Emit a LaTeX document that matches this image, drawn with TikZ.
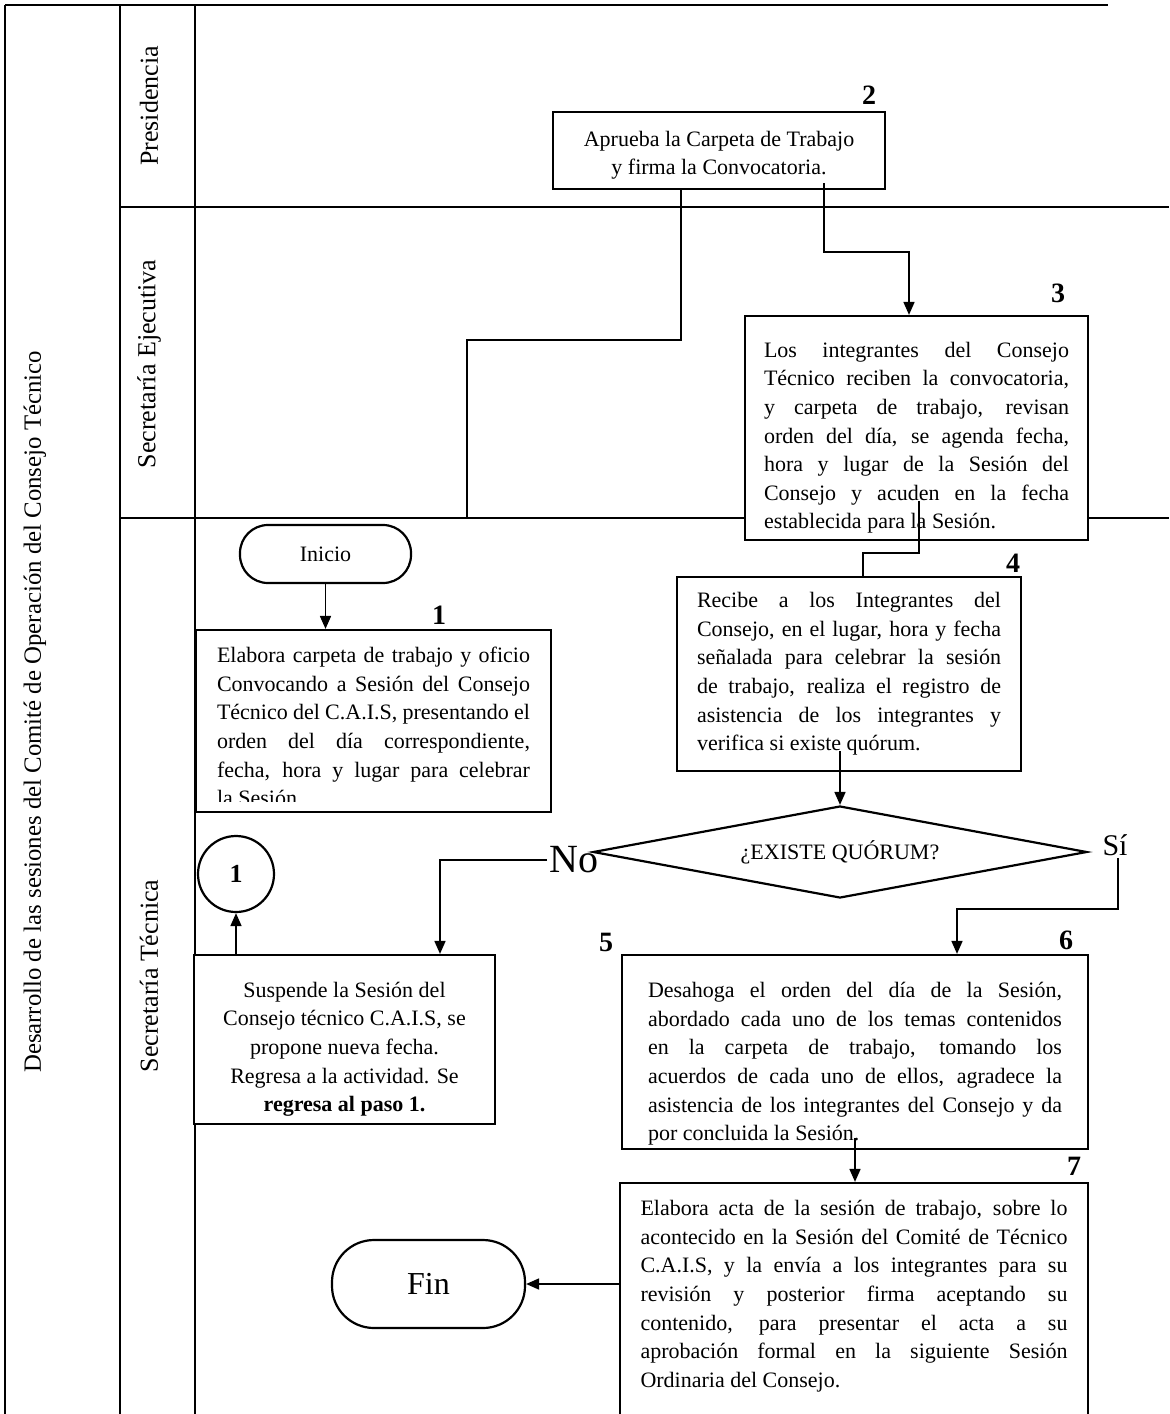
\documentclass[tikz,border=0pt]{standalone}
\usepackage{fontspec}
\setmainfont{Liberation Serif}
\usetikzlibrary{arrows.meta,shapes.geometric}
\newcommand{\topgap}[1]{\rule{0pt}{#1}}

\begin{document}
\begin{tikzpicture}[x=0.5pt,y=-0.5pt,
  lane/.style={line width=.65pt},
  box/.style={draw,fill=white,line width=1.1pt,inner sep=0pt},
  txt/.style={font=\fontsize{11}{14.3}\selectfont,align=justify,inner sep=0pt},
  lbl/.style={rotate=90,font=\fontsize{13}{15}\selectfont},
  num/.style={font=\fontsize{14}{16}\selectfont\bfseries},
  lin/.style={line width=.85pt},
  arr/.style={line width=.85pt,-{Triangle[length=6.5pt,width=5.5pt]}}]
  \useasboundingbox (0,0) rectangle (1169,1414);
  \draw[lane] (5,5) -- (1108,5);
  \draw[lane] (5,5) -- (5,1420) (120,5) -- (120,1420) (195,5) -- (195,1420);
  \draw[lane] (120,207) -- (1169,207) (120,518) -- (1169,518);
  \node[lbl,font=\fontsize{12.4}{15}\selectfont] (lblall) at (35,712) {Desarrollo de las sesiones del Comité de Operación del Consejo Técnico};
  \node[lbl] (lblpre) at (149,106) {Presidencia};
  \node[lbl] (lbleje) at (149,364) {Secretaría Ejecutiva};
  \node[lbl] (lbltec) at (149,976) {Secretaría Técnica};

  \node[box,txt,align=center,minimum width=166pt,minimum height=38.5pt] (act2) at (719,150.5)
    {\topgap{12.5pt}Aprueba la Carpeta de Trabajo\\y firma la Convocatoria.};
  \node[box,txt,text width=152.5pt,minimum width=171.5pt,minimum height=112pt] (act3) at (916.5,428)
    {\topgap{17.5pt}Los integrantes del Consejo\linebreak Técnico reciben la convocatoria,\linebreak y carpeta de trabajo, revisan\linebreak
     orden del día, se agenda fecha,\linebreak hora y lugar de la Sesión del\linebreak Consejo y acuden en la fecha\linebreak
     establecida para la Sesión.};
  \node[box,rounded corners=14pt,minimum width=85.5pt,minimum height=29pt,
    font=\fontsize{11}{13}\selectfont] (ini) at (325.5,554) {Inicio};
  \node[box,minimum width=177.5pt,minimum height=91pt] (act1) at (373.5,721) {};
  \begin{scope}
    \clip ([yshift=6pt]act1.south west) rectangle (act1.north east);
    \node[txt,text width=156.5pt,anchor=north] (act1txt) at ([yshift=-9pt]act1.north)
      {Elabora carpeta de trabajo y oficio\linebreak Convocando a Sesión del Consejo\linebreak
       Técnico del C.A.I.S, presentando el\linebreak orden del día correspondiente,\linebreak
       fecha, hora y lugar para celebrar\linebreak la Sesión};
  \end{scope}
  \node[box,txt,text width=152pt,minimum width=172pt,minimum height=97pt] (act4) at (849,674)
    {Recibe a los Integrantes del\linebreak Consejo, en el lugar, hora y fecha\linebreak señalada para celebrar la sesión\linebreak
     de trabajo, realiza el registro de\linebreak asistencia de los integrantes y\linebreak verifica si existe quórum.};
  \node[draw,diamond,line width=1.1pt,aspect=5.4,minimum width=247pt,minimum height=46pt,inner sep=0pt,
    font=\fontsize{11}{13}\selectfont] (dec) at (840,852) {¿EXISTE QUÓRUM?};
  \node[font=\fontsize{20}{22}\selectfont,inner sep=1pt] (no) at (574,860) {No};
  \node[font=\fontsize{15}{17}\selectfont,inner sep=1pt] (si) at (1115,845) {Sí};
  \node[draw,circle,line width=1.1pt,minimum size=38pt,inner sep=0pt,
    font=\fontsize{13}{15}\selectfont\bfseries] (con1) at (236,874) {1};
  \node[box,txt,align=center,minimum width=150.5pt,minimum height=84.5pt] (act5) at (344.5,1039.5)
    {\topgap{17.5pt}Suspende la Sesión del\\Consejo técnico C.A.I.S, se\\propone nueva fecha.\\Regresa a la actividad. Se\\\textbf{regresa al paso 1.}};
  \node[box,txt,text width=207pt,minimum width=233pt,minimum height=97pt] (act6) at (855,1052)
    {\topgap{19.5pt}Desahoga el orden del día de la Sesión,\linebreak abordado cada uno de los temas contenidos\linebreak
     en la carpeta de trabajo, tomando los\linebreak acuerdos de cada uno de ellos, agradece la\linebreak
     asistencia de los integrantes del Consejo y da\linebreak por concluida la Sesión.};
  \node[box,minimum width=234pt,minimum height=128.5pt] (act7) at (854,1311.5) {};
  \node[txt,text width=213.5pt,anchor=north] (act7txt) at ([yshift=-9pt]act7.north)
    {Elabora acta de la sesión de trabajo, sobre lo\linebreak acontecido en la Sesión del Comité de Técnico\linebreak
     C.A.I.S, y la envía a los integrantes para su\linebreak revisión y posterior firma aceptando su\linebreak
     contenido, para presentar el acta a su\linebreak aprobación formal en la siguiente Sesión\linebreak
     Ordinaria del Consejo.};
  \node[box,rounded corners=21pt,minimum width=96.5pt,minimum height=44pt,
    font=\fontsize{16}{18}\selectfont] (fin) at (428.5,1284) {Fin};

  \node[num] (n1) at (439,615) {1};
  \node[num] (n2) at (869,95) {2};
  \node[num] (n3) at (1058,293) {3};
  \node[num] (n4) at (1013,563) {4};
  \node[num] (n5) at (606,942) {5};
  \node[num] (n6) at (1066,940) {6};
  \node[num] (n7) at (1074,1166) {7};

  \coordinate (lnend) at (467,518);
  \coordinate (yturn) at (1118,909);
  \draw[arr] ([xshift=52.5pt,yshift=3.5pt]act2.south) -- ++(0,69) -| ([xshift=-3.75pt]act3.north);
  \draw[lin] ([xshift=-19pt]act2.south) -- ++(0,150) -| (lnend);
  \draw[lin] ([xshift=1.25pt,yshift=20pt]act3.south) -- ++(0,52) -| ([xshift=7pt]act4.north);
  \draw[arr] (ini.south) -- (ini.south |- act1.north);
  \draw[arr] ([yshift=10.5pt]act4.south -| dec.north) -- (dec.north);
  \draw[arr] (no.west) -| ([xshift=47.75pt]act5.north);
  \draw[arr] (si.south -| yturn) -- (yturn) -| ([xshift=51pt]act6.north);
  \draw[arr] (act5.north -| con1.south) -- (con1.south);
  \draw[arr] ([yshift=6pt]act6.south) -- (act6.south |- act7.north);
  \draw[arr] (act7.west |- fin.east) -- (fin.east);
\end{tikzpicture}
\end{document}
